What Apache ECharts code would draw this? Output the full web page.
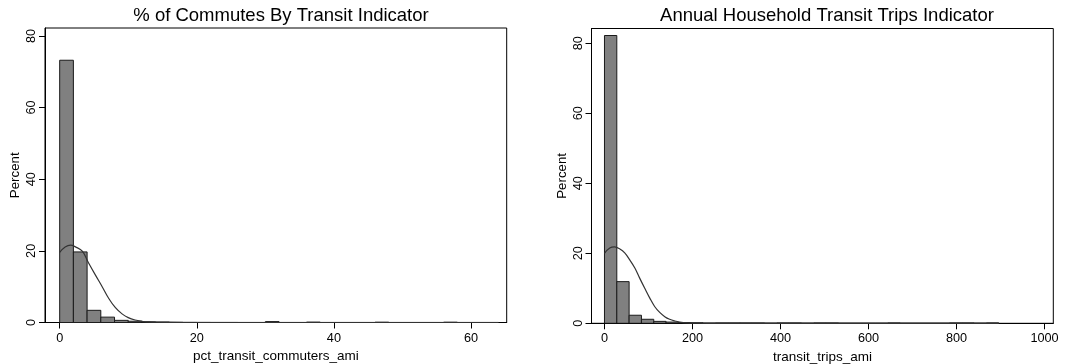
<!DOCTYPE html>
<html>
<head>
<meta charset="utf-8">
<script src="https://cdn.jsdelivr.net/npm/echarts@6/dist/echarts.min.js"></script>
<style>
html,body{margin:0;padding:0;background:#fff;}
#chart{width:1065px;height:364px;}
</style>
</head>
<body>
<div id="chart"></div>
<script>
// ---- Data ----
const titles = ['% of Commutes By Transit Indicator', 'Annual Household Transit Trips Indicator'];
const xNames = ['pct_transit_commuters_ami', 'transit_trips_ami'];
const yName = 'Percent';

// Left histogram: bin width 2, bins start at 0
const leftBinWidth = 2;
const leftBins = [73.2, 19.7, 3.4, 1.5, 0.6, 0.35, 0.2, 0.15, 0.08, 0.05, 0.04, 0.03, 0.03, 0.02, 0.02, 0.25,
                  0.02, 0.02, 0.12, 0.02, 0.02, 0.02, 0.02, 0.1, 0.02, 0.02, 0.02, 0.02, 0.1, 0.02, 0.02, 0.02];
// Right histogram: bin width 28, bins start at 0
const rightBinWidth = 28;
const rightBins = [82.2, 11.9, 2.3, 1.15, 0.55, 0.35, 0.2, 0.15, 0.05, 0.1, 0.1, 0.1, 0.1, 0.03, 0.1, 0.1,
                   0.03, 0.1, 0.1, 0.02, 0.02, 0.02, 0.02, 0.1, 0.02, 0.02, 0.02, 0.02, 0.1, 0.1, 0.02, 0.1];

// Overlaid density curves
const leftCurveX = [0, 0.8, 1.6, 2.3, 3.3, 4.2, 5.2, 6.2, 7.1, 8.1, 9.1, 10, 11, 12, 13, 14, 16, 20, 64];
const leftCurveY = [19.6, 21.1, 21.6, 21.1, 19.9, 16.7, 13.3, 10.0, 6.9, 4.2, 2.4, 1.35, 0.7, 0.35, 0.15, 0.07, 0.02, 0, 0];
const rightCurveX = [0, 12, 23, 35, 46, 57, 69, 80, 91.5, 103, 114, 125.5, 137, 148, 160, 171, 186, 210, 260, 896];
const rightCurveY = [20.0, 21.5, 21.8, 21.2, 20.1, 18.2, 15.8, 12.9, 10.0, 7.2, 4.8, 3.1, 1.9, 1.15, 0.65, 0.35, 0.12, 0.02, 0, 0];

// Axis tick labels
const leftXTicks = [0, 20, 40, 60];
const rightXTicks = [0, 200, 400, 600, 800, 1000];
const yTicks = [0, 20, 40, 60, 80];

// ---- Build ----
const FONT = '"Liberation Sans", Arial, Helvetica, sans-serif';

function binData(bins, width) {
  return bins.map((v, i) => [i * width, (i + 1) * width, v]);
}
function curveData(xs, ys) {
  return xs.map((x, i) => [x, ys[i]]);
}
function renderBar(params, api) {
  const p0 = api.coord([api.value(0), 0]);
  const p1 = api.coord([api.value(1), api.value(2)]);
  return {
    type: 'rect',
    shape: { x: p0[0], y: p1[1], width: p1[0] - p0[0], height: p0[1] - p1[1] },
    style: { fill: '#808080', stroke: '#1a1a1a', lineWidth: 1 }
  };
}
const plain = v => String(v);
function xAxisCfg(gi, min, max, ticks, name) {
  return {
    type: 'value', gridIndex: gi, min: min, max: max,
    name: name, nameLocation: 'middle', nameGap: 17,
    nameTextStyle: { fontFamily: FONT, fontSize: 13.5, color: '#000' },
    axisLine: { show: true, onZero: false, lineStyle: { color: '#000', width: 1 } },
    axisTick: { show: true, length: 6, customValues: ticks, lineStyle: { color: '#000', width: 1 } },
    axisLabel: { customValues: ticks, formatter: plain, margin: 9, fontFamily: FONT, fontSize: 12.7, color: '#000' },
    splitLine: { show: false }
  };
}
function yAxisCfg(gi, max) {
  return {
    type: 'value', gridIndex: gi, min: 0, max: max,
    name: yName, nameLocation: 'middle', nameGap: 23,
    nameTextStyle: { fontFamily: FONT, fontSize: 13.3, color: '#000' },
    axisLine: { show: true, onZero: false, lineStyle: { color: '#000', width: 1 } },
    axisTick: { show: true, length: 6, customValues: yTicks, lineStyle: { color: '#000', width: 1 } },
    axisLabel: { rotate: 90, customValues: yTicks, formatter: plain, margin: 7, fontFamily: FONT, fontSize: 12.7, color: '#000' },
    splitLine: { show: false }
  };
}

const chart = echarts.init(document.getElementById('chart'), null, { renderer: 'canvas' });
chart.setOption({
  backgroundColor: '#fff',
  animation: false,
  title: [
    { text: titles[0], left: 276, top: 1, textAlign: 'center',
      textStyle: { fontFamily: FONT, fontSize: 18.5, fontWeight: 'normal', color: '#000' } },
    { text: titles[1], left: 822, top: 1, textAlign: 'center',
      textStyle: { fontFamily: FONT, fontSize: 18.5, fontWeight: 'normal', color: '#000' } }
  ],
  grid: [
    { left: 45, right: 558.3, top: 28, bottom: 41.5, show: true, borderColor: '#000', borderWidth: 1, backgroundColor: '#fff', containLabel: false, outerBoundsMode: 'none' },
    { left: 591.5, right: 11.7, top: 28.5, bottom: 40.7, show: true, borderColor: '#000', borderWidth: 1, backgroundColor: '#fff', containLabel: false, outerBoundsMode: 'none' }
  ],
  xAxis: [
    xAxisCfg(0, -2.14, 65.2, leftXTicks, xNames[0]),
    xAxisCfg(1, -29.5, 1020, rightXTicks, xNames[1])
  ],
  yAxis: [
    yAxisCfg(0, 82.2),
    yAxisCfg(1, 84.2)
  ],
  series: [
    { type: 'custom', xAxisIndex: 0, yAxisIndex: 0, renderItem: renderBar, clip: true,
      encode: { x: [0, 1], y: 2 }, data: binData(leftBins, leftBinWidth), z: 2 },
    { type: 'line', xAxisIndex: 0, yAxisIndex: 0, smooth: 0.4, showSymbol: false, symbol: 'none',
      lineStyle: { color: '#333', width: 1.2 }, data: curveData(leftCurveX, leftCurveY), z: 3 },
    { type: 'custom', xAxisIndex: 1, yAxisIndex: 1, renderItem: renderBar, clip: true,
      encode: { x: [0, 1], y: 2 }, data: binData(rightBins, rightBinWidth), z: 2 },
    { type: 'line', xAxisIndex: 1, yAxisIndex: 1, smooth: 0.4, showSymbol: false, symbol: 'none',
      lineStyle: { color: '#333', width: 1.2 }, data: curveData(rightCurveX, rightCurveY), z: 3 }
  ]
});
</script>
</body>
</html>
